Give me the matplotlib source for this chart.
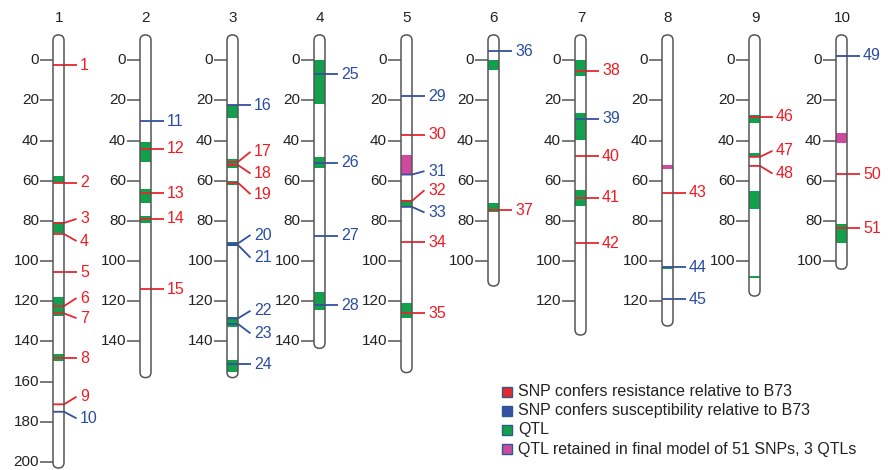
import matplotlib
matplotlib.use("Agg")
import matplotlib.pyplot as plt
from matplotlib.patches import FancyBboxPatch, Rectangle

plt.rcParams['font.family'] = ['Liberation Sans', 'DejaVu Sans']

# ---------------- data ----------------
chrom_names = ['1', '2', '3', '4', '5', '6', '7', '8', '9', '10']
chrom_top = -12.6
chrom_end = [203, 158, 158, 143.4, 155.5, 112.4, 136.8, 132.3, 117.4, 104]
tick_max = [200, 140, 140, 140, 140, 100, 120, 120, 100, 100]

snp_chr = [1]*10 + [2]*5 + [3]*9 + [4]*4 + [5]*7 + [6]*2 + [7]*5 + [8]*3 + [9]*3 + [10]*3
snp_pos = [2.5, 61, 81, 86.5, 105.5, 122.4, 126, 148.4, 171.3, 175,
           30.3, 44, 66.3, 78.8, 114,
           22.4, 50.6, 52.2, 61, 91.2, 92, 128.5, 131.3, 151.4,
           7, 51, 87.4, 121.9,
           17.8, 37, 56.9, 70, 73, 90.7, 126,
           -4.5, 74.6,
           5.3, 29, 47.8, 68.5, 91.2,
           66, 103.1, 119,
           28.2, 48.1, 52.6,
           -2.3, 56.7, 83.7]
snp_type = list('RRRRRRRRRS' 'SRRRR' 'SRRRSSSSS' 'SSSS' 'SRSRSRR' 'SR' 'RSRRR' 'RSS' 'RRR' 'SRR')
# label positions that differ from the SNP position (label number -> cM)
snp_label_pos = {3: 79, 4: 90, 6: 118.4, 7: 128.4, 9: 167.5, 10: 178.3,
                 17: 45.6, 18: 56.4, 19: 66.7, 20: 87, 21: 98.3, 22: 124.7, 23: 136,
                 31: 55.2, 32: 64.7, 33: 75.8, 47: 45.1, 48: 56.4}

qtl_chr = [1, 1, 1, 1, 2, 2, 2, 3, 3, 3, 3, 3, 3, 4, 4, 4, 5, 5, 5, 6, 6, 7, 7, 7,
           8, 8, 9, 9, 9, 9, 10, 10]
qtl_start = [57.7, 80.6, 118, 146.4, 40.6, 64.2, 77.6, 22.4, 49.1, 60.3, 90.4, 127.7, 149.3,
             0, 48, 115.3, 47, 69.7, 120.7, 0, 71.3, 0, 26.2, 64.7,
             52.2, 102.8, 27.4, 46.1, 65.2, 107.5, 36.2, 81.3]
qtl_end = [61.2, 86, 127.4, 149.6, 50.9, 71, 81.1, 28.7, 53.6, 62, 92.5, 132.7, 155,
           22, 53.6, 124.4, 56.4, 73.3, 128.2, 5, 75.5, 8, 39.8, 72.6,
           53.9, 104.1, 31.2, 48.1, 74.1, 108.6, 41, 90.9]
qtl_retained = [False]*16 + [True] + [False]*7 + [True] + [False]*5 + [True, False]

legend_labels = ['SNP confers resistance relative to B73',
                 'SNP confers susceptibility relative to B73',
                 'QTL',
                 'QTL retained in final model of 51 SNPs, 3 QTLs']

# ---------------- style ----------------
RED = '#e8262e'
BLUE = '#3350a3'
GREEN = '#12a04c'
MAGENTA = '#cf4a9e'
TXT_RED = '#ee1c25'
TXT_BLUE = '#2b4da0'
OUTLINE = '#555555'
TXT = '#222222'

W, H = 889, 470
fig = plt.figure(figsize=(W/100, H/100), dpi=100)
ax = fig.add_axes([0, 0, 1, 1])
ax.set_xlim(0, W)
ax.set_ylim(204, -30)
ax.axis('off')
px_per_cm = H / 234.0

centers = [58.5 + 87 * i for i in range(10)]
bw = 11.0

for i, name in enumerate(chrom_names):
    c = centers[i]
    left = c - bw/2
    fill = FancyBboxPatch((left, chrom_top), bw, chrom_end[i] - chrom_top,
                          boxstyle="round,pad=0,rounding_size=5.5",
                          mutation_aspect=1/px_per_cm, fc='white', ec='none', zorder=1)
    ax.add_patch(fill)
    outline = FancyBboxPatch((left, chrom_top), bw, chrom_end[i] - chrom_top,
                             boxstyle="round,pad=0,rounding_size=5.5",
                             mutation_aspect=1/px_per_cm, fc='none', ec=OUTLINE,
                             lw=1.1, zorder=5)
    ax.add_patch(outline)
    ax.text(c + 0.5, -21, name, ha='center', va='center', fontsize=11, color=TXT)
    for t in range(0, tick_max[i] + 1, 20):
        ax.plot([left - 13, left], [t, t], color=OUTLINE, lw=1.1, zorder=2,
                solid_capstyle='butt')
        ax.text(left - 14, t, str(t), ha='right', va='center', fontsize=11, color=TXT)

for s, e, ch, ret in zip(qtl_start, qtl_end, qtl_chr, qtl_retained):
    c = centers[ch - 1]
    ax.add_patch(Rectangle((c - bw/2, s), bw, e - s, fc=MAGENTA if ret else GREEN,
                           ec='none', zorder=2))

for k, (ch, pos, typ) in enumerate(zip(snp_chr, snp_pos, snp_type)):
    num = k + 1
    c = centers[ch - 1]
    lab = snp_label_pos.get(num, pos)
    col = RED if typ == 'R' else BLUE
    tcol = TXT_RED if typ == 'R' else TXT_BLUE
    ax.plot([c - bw/2, c + bw/2, c + 18], [pos, pos, lab], color=col, lw=1.3,
            zorder=4, solid_capstyle='butt')
    ax.text(c + 21.5, lab, str(num), ha='left', va='center', fontsize=11.5, color=tcol)

# legend in pixel coordinates
lax = fig.add_axes([0, 0, 1, 1])
lax.set_xlim(0, W)
lax.set_ylim(H, 0)
lax.axis('off')
lax.patch.set_alpha(0)
for j, (lbl, col) in enumerate(zip(legend_labels, [RED, BLUE, GREEN, MAGENTA])):
    y = 391.5 + 19.2 * j
    lax.add_patch(Rectangle((502, y - 5), 10, 10, fc=col, ec='#2a5b8c', lw=1.0))
    lax.text(518, y, lbl, ha='left', va='center', fontsize=11.5, color=TXT)

fig.savefig('out.png', dpi=100)
